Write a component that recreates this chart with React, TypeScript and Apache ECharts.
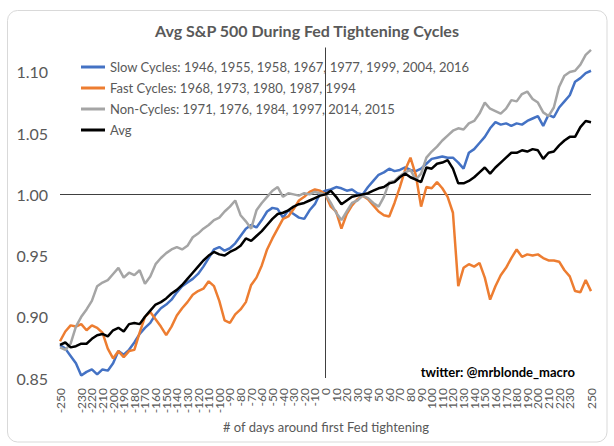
import React, { useEffect, useRef } from "react";
import * as echarts from "echarts";

const TITLE = "Avg S&P 500 During Fed Tightening Cycles";
const X_NAME = "# of days around first Fed tightening";
const CREDIT = "twitter: @mrblonde_macro";
const SERIES_NAMES = [
  "Slow Cycles: 1946, 1955, 1958, 1967, 1977, 1999, 2004, 2016",
  "Fast Cycles: 1968, 1973, 1980, 1987, 1994",
  "Non-Cycles: 1971, 1976, 1984, 1997, 2014, 2015",
  "Avg",
];
const COLORS = ["#4472C4", "#ED7D31", "#A5A5A5", "#000000"];

const DAYS = [
  -250, -245, -240, -235, -230, -225, -220, -215, -210, -205,
  -200, -195, -190, -185, -180, -175, -170, -165, -160, -155,
  -150, -145, -140, -135, -130, -125, -120, -115, -110, -105,
  -100, -95, -90, -85, -80, -75, -70, -65, -60, -55,
  -50, -45, -40, -35, -30, -25, -20, -15, -10, -5,
  0,
  5, 10, 15, 20, 25, 30, 35, 40, 45, 50,
  55, 60, 65, 70, 75, 80, 85, 90, 95, 100,
  105, 110, 115, 120, 125, 130, 135, 140, 145, 150,
  155, 160, 165, 170, 175, 180, 185, 190, 195, 200,
  205, 210, 215, 220, 225, 230, 235, 240, 245, 250,
];

const SLOW = [
  0.877, 0.874, 0.868, 0.862, 0.852, 0.855, 0.857, 0.853, 0.857, 0.856,
  0.862, 0.872, 0.869, 0.873, 0.879, 0.886, 0.891, 0.895, 0.902, 0.907,
  0.910, 0.914, 0.920, 0.925, 0.928, 0.931, 0.935, 0.941, 0.948, 0.955,
  0.957, 0.954, 0.956, 0.960, 0.966, 0.972, 0.975, 0.973, 0.979, 0.986,
  0.989, 0.988, 0.981, 0.987, 0.984, 0.981, 0.980, 0.987, 0.992, 1.001,
  1.003,
  1.004, 1.006, 1.005, 1.003, 1.004, 1.001, 1.000, 1.006, 1.011, 1.016,
  1.018, 1.021, 1.019, 1.020, 1.022, 1.020, 1.019, 1.021, 1.025, 1.029,
  1.030, 1.031, 1.030, 1.030, 1.026, 1.021, 1.034, 1.037, 1.042, 1.047,
  1.054, 1.059, 1.057, 1.058, 1.056, 1.058, 1.057, 1.060, 1.062, 1.064,
  1.056, 1.065, 1.063, 1.071, 1.076, 1.081, 1.092, 1.095, 1.099, 1.101,
];

const FAST = [
  0.880, 0.888, 0.893, 0.892, 0.894, 0.889, 0.893, 0.891, 0.887, 0.874,
  0.866, 0.872, 0.867, 0.872, 0.873, 0.887, 0.900, 0.904, 0.898, 0.892,
  0.885, 0.892, 0.901, 0.907, 0.912, 0.918, 0.921, 0.923, 0.929, 0.925,
  0.913, 0.897, 0.895, 0.902, 0.906, 0.912, 0.926, 0.932, 0.942, 0.955,
  0.964, 0.972, 0.980, 0.982, 0.988, 0.995, 0.998, 1.002, 1.004, 1.003,
  1.000,
  0.990, 0.986, 0.972, 0.984, 0.991, 0.996, 0.999, 0.996, 0.991, 0.986,
  0.983, 0.982, 0.993, 1.006, 1.020, 1.030, 1.016, 0.990, 1.006, 1.005,
  1.010, 1.005, 0.998, 0.985, 0.925, 0.940, 0.943, 0.941, 0.944, 0.932,
  0.914, 0.925, 0.934, 0.940, 0.948, 0.955, 0.949, 0.951, 0.950, 0.951,
  0.948, 0.946, 0.946, 0.945, 0.938, 0.933, 0.921, 0.920, 0.930, 0.921,
];

const NON = [
  0.875, 0.873, 0.878, 0.892, 0.900, 0.906, 0.913, 0.925, 0.928, 0.930,
  0.935, 0.940, 0.932, 0.936, 0.934, 0.938, 0.927, 0.933, 0.943, 0.948,
  0.952, 0.955, 0.957, 0.955, 0.958, 0.965, 0.968, 0.972, 0.975, 0.979,
  0.981, 0.986, 0.990, 0.995, 0.983, 0.978, 0.972, 0.987, 0.993, 0.998,
  1.003, 1.006, 0.998, 1.001, 1.000, 0.999, 1.001, 1.000, 1.002, 1.001,
  1.000,
  0.993, 0.985, 0.979, 0.986, 0.993, 0.995, 0.999, 0.997, 0.993, 0.990,
  0.998, 1.010, 1.011, 1.015, 1.018, 1.020, 1.012, 1.017, 1.030, 1.035,
  1.039, 1.044, 1.048, 1.052, 1.054, 1.053, 1.058, 1.060, 1.066, 1.075,
  1.070, 1.068, 1.066, 1.070, 1.077, 1.076, 1.082, 1.084, 1.078, 1.075,
  1.067, 1.064, 1.071, 1.088, 1.097, 1.100, 1.101, 1.106, 1.114, 1.118,
];

const AVG = [
  0.877, 0.879, 0.875, 0.876, 0.878, 0.878, 0.882, 0.885, 0.886, 0.884,
  0.889, 0.891, 0.888, 0.894, 0.895, 0.894, 0.900, 0.905, 0.910, 0.912,
  0.915, 0.919, 0.922, 0.926, 0.931, 0.936, 0.941, 0.946, 0.950, 0.953,
  0.951, 0.950, 0.953, 0.955, 0.958, 0.964, 0.962, 0.966, 0.970, 0.975,
  0.980, 0.984, 0.985, 0.987, 0.990, 0.992, 0.993, 0.995, 0.997, 0.999,
  1.000,
  1.003, 0.998, 0.992, 0.995, 0.998, 0.999, 1.000, 1.001, 1.003, 1.005,
  1.006, 1.009, 1.010, 1.014, 1.017, 1.014, 1.012, 1.010, 1.022, 1.021,
  1.025, 1.026, 1.028, 1.021, 1.009, 1.009, 1.011, 1.014, 1.018, 1.022,
  1.017, 1.022, 1.026, 1.030, 1.034, 1.034, 1.036, 1.035, 1.037, 1.036,
  1.029, 1.034, 1.035, 1.040, 1.044, 1.047, 1.047, 1.055, 1.060, 1.059,
];

const VALUES = [SLOW, FAST, NON, AVG];
const FONT = "Lato";
const GREY_TEXT = "#595959";

export default function App() {
  const ref = useRef<HTMLDivElement>(null);

  useEffect(() => {
    if (!ref.current) return;
    const chart = echarts.init(ref.current, null, { renderer: "svg" });

    const series: any[] = VALUES.map((vals, i) => ({
      name: SERIES_NAMES[i],
      type: "line",
      data: DAYS.map((d, j) => [d, vals[j]]),
      showSymbol: false,
      symbol: "none",
      lineStyle: { color: COLORS[i], width: 2.5 },
      itemStyle: { color: COLORS[i] },
      z: 3 + i,
      ...(i === 0
        ? {
            markLine: {
              silent: true,
              symbol: "none",
              label: { show: false },
              lineStyle: { color: "#404040", width: 1, type: "solid" },
              z: 1,
              data: [{ xAxis: 0 }, { yAxis: 1 }],
            },
          }
        : {}),
    }));

    chart.setOption({
      animation: false,
      backgroundColor: "#ffffff",
      textStyle: { fontFamily: FONT },
      title: {
        text: TITLE,
        left: "center",
        top: 17,
        textStyle: { fontFamily: FONT, fontSize: 16, fontWeight: "bold", color: GREY_TEXT },
      },
      legend: {
        orient: "vertical",
        left: 76,
        top: 55,
        itemWidth: 24,
        itemHeight: 3,
        itemGap: 7,
        icon: "rect",
        textStyle: { fontFamily: FONT, fontSize: 13, color: GREY_TEXT, lineHeight: 14 },
        data: SERIES_NAMES,
      },
      grid: {
        left: 60,
        right: 23,
        top: 47.5,
        bottom: 68,
        containLabel: false,
        outerBoundsMode: "none",
      },
      xAxis: {
        type: "value",
        min: -250,
        max: 250,
        interval: 10,
        axisLine: { show: false },
        axisTick: { show: false },
        splitLine: { show: false },
        axisLabel: {
          rotate: 90,
          fontFamily: FONT,
          fontSize: 12,
          color: GREY_TEXT,
          margin: 10,
          showMinLabel: true,
          showMaxLabel: true,
        },
      },
      yAxis: {
        type: "value",
        min: 0.85,
        max: 1.12,
        interval: 0.05,
        axisLine: { show: false },
        axisTick: { show: false },
        splitLine: { show: false },
        axisLabel: {
          fontFamily: FONT,
          fontSize: 16,
          color: GREY_TEXT,
          margin: 12,
          formatter: (v: number) => (Math.abs(v - 1.12) < 1e-6 ? "" : v.toFixed(2)),
        },
      },
      graphic: [
        {
          type: "rect",
          shape: { x: 7.5, y: 10.5, width: 599.5, height: 431.5, r: 10 },
          style: { fill: "none", stroke: "#d9d9d9", lineWidth: 1 },
          silent: true,
          z: -10,
        },
        {
          type: "text",
          x: 575,
          y: 372,
          style: {
            text: CREDIT,
            fill: "#000000",
            font: `bold 13px ${FONT}`,
            textAlign: "right",
            textVerticalAlign: "middle",
          },
        },
        {
          type: "text",
          x: 326,
          y: 427,
          style: {
            text: X_NAME,
            fill: GREY_TEXT,
            font: `13px ${FONT}`,
            textAlign: "center",
            textVerticalAlign: "middle",
          },
        },
      ],
      series,
    });

    return () => chart.dispose();
  }, []);

  return (
    <div
      ref={ref}
      style={{ position: "absolute", left: 0, top: 0, width: 614, height: 446, background: "#fff" }}
    />
  );
}
